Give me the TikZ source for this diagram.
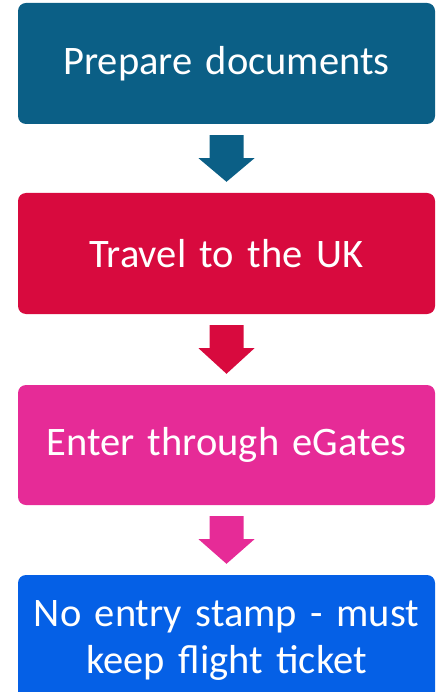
\documentclass[tikz,border=0pt]{standalone}
\usepackage{fontspec}
\setmainfont{Carlito}
\usetikzlibrary{positioning}
\usetikzlibrary{calc}

\definecolor{prepblue}{HTML}{0B5F86}
\definecolor{travelred}{HTML}{D80A3E}
\definecolor{gatepink}{HTML}{E62B97}
\definecolor{stampblue}{HTML}{0560E6}

\newcommand{\blockarrow}[3]{%
  \fill[#3] ($(#1.south)+(-17,11)$) -- ++(34,0) -- ++(0,23) -- ++(11,0)
    -- ($(#2.north)+(0,-11)$) -- ($(#1.south)+(-28,34)$) -- ++(11,0) -- cycle;
}

\begin{document}
\begin{tikzpicture}[x=1pt, y=-1pt,
  step box/.style={
    rectangle,
    rounded corners=8pt,
    minimum width=417pt,
    text width=410pt,
    align=center,
    text=white,
    font=\fontsize{40.5}{47}\selectfont,
    inner sep=0pt
  }]
  \useasboundingbox (0,0) rectangle (438,692);
  % Nodes
  \node[step box, fill=prepblue, minimum height=121pt] (prep) at (226.5,63.5) {Prepare documents};
  \node[step box, fill=travelred, minimum height=121pt] (travel) at (226.5,253.5) {Travel to the UK};
  \node[step box, fill=gatepink, minimum height=120pt] (gates) at (226.5,445) {Enter through eGates};
  \node[step box, fill=stampblue, minimum height=130pt] (stamp) at (226.5,640) {No entry stamp - must\\keep flight ticket};
  % Arrows
  \blockarrow{prep}{travel}{prepblue}
  \blockarrow{travel}{gates}{travelred}
  \blockarrow{gates}{stamp}{gatepink}
\end{tikzpicture}
\end{document}
